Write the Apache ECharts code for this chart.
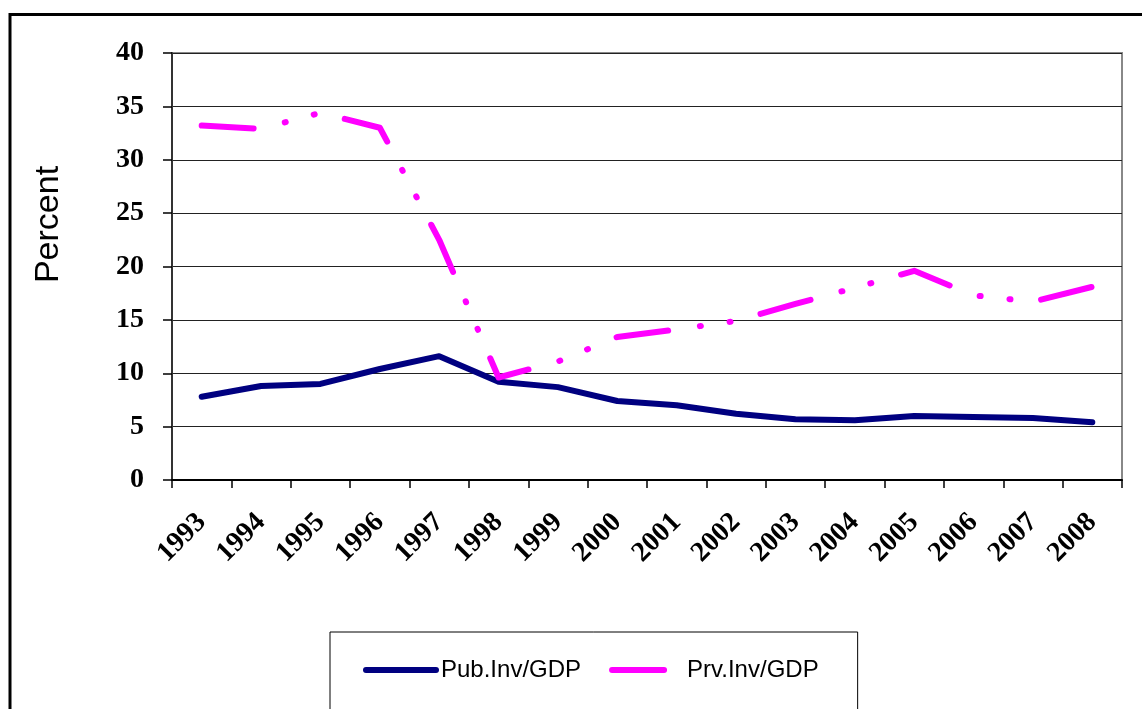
<!DOCTYPE html>
<html>
<head>
<meta charset="utf-8">
<script src="https://cdn.jsdelivr.net/npm/echarts@6/dist/echarts.min.js"></script>
<style>
  html, body { margin: 0; padding: 0; background: #fff; }
  #chart { width: 1142px; height: 709px; }
</style>
</head>
<body>
<div id="chart"></div>
<script>
// 年份与两条序列
const years = ['1993', '1994', '1995', '1996', '1997', '1998', '1999', '2000',
  '2001', '2002', '2003', '2004', '2005', '2006', '2007', '2008']
const pubInv = [7.8, 8.8, 9.0, 10.4, 11.6, 9.2, 8.7, 7.4, 7.0, 6.2, 5.7, 5.6, 6.0, 5.9, 5.8, 5.4]
const prvInv = [33.2, 32.9, 34.4, 33.0, 22.5, 9.6, 11.1, 13.4, 14.1, 14.9, 16.5, 18.0, 19.6, 17.3, 16.7, 18.1]
const seriesNames = ['Pub.Inv/GDP', 'Prv.Inv/GDP']

const serif = '"Liberation Serif", "Times New Roman", serif'
const sans = '"Liberation Sans", Arial, sans-serif'

const chartDom = echarts.init(document.getElementById('chart'))

const option = {
  animation: false,
  backgroundColor: '#fff',
  graphic: [
    {
      type: 'rect',
      shape: { x: 10, y: 14.5, width: 1300, height: 900 },
      style: { fill: 'none', stroke: '#000', lineWidth: 3 },
      silent: true
    }
  ],
  grid: {
    left: 172,
    top: 53,
    right: 20,
    bottom: 229,
    show: true,
    borderColor: '#888',
    borderWidth: 2
  },
  legend: {
    data: seriesNames,
    left: 330,
    top: 632,
    orient: 'horizontal',
    padding: [26, 39, 80, 33],
    borderColor: '#000',
    borderWidth: 1,
    itemWidth: 70,
    itemHeight: 14,
    itemGap: 28,
    // 去掉图例里的圆点，只保留线
    itemStyle: { color: 'rgba(0,0,0,0)', borderWidth: 0 },
    lineStyle: { width: 6 },
    textStyle: {
      fontFamily: sans,
      fontSize: 24,
      color: '#000'
    }
  },
  xAxis: {
    type: 'category',
    data: years,
    boundaryGap: true,
    axisLine: { lineStyle: { color: '#000', width: 2 } },
    axisTick: { show: true, inside: false, length: 8, lineStyle: { color: '#000', width: 1.5 } },
    axisLabel: {
      rotate: 45,
      margin: 38,
      interval: 0,
      fontFamily: serif,
      fontWeight: 'bold',
      fontSize: 28,
      color: '#000'
    },
    splitLine: { show: false }
  },
  yAxis: {
    type: 'value',
    min: 0,
    max: 40,
    interval: 5,
    name: 'Percent',
    nameLocation: 'middle',
    nameRotate: 90,
    nameGap: 106,
    nameTextStyle: {
      fontFamily: sans,
      fontSize: 34,
      color: '#000',
      padding: [0, 0, 0, 84]
    },
    axisLine: { show: true, lineStyle: { color: '#333', width: 2 } },
    axisTick: { show: true, inside: false, length: 9, lineStyle: { color: '#000', width: 1.5 } },
    axisLabel: {
      margin: 28,
      fontFamily: serif,
      fontWeight: 'bold',
      fontSize: 28,
      color: '#000'
    },
    splitLine: { show: true, lineStyle: { color: '#222', width: 1.2 } }
  },
  series: [
    {
      name: seriesNames[0],
      type: 'line',
      data: pubInv,
      symbol: 'none',
      smooth: false,
      itemStyle: { color: '#000080' },
      lineStyle: { color: '#000080', width: 6, cap: 'round', join: 'round' }
    },
    {
      name: seriesNames[1],
      type: 'line',
      data: prvInv,
      symbol: 'none',
      smooth: false,
      itemStyle: { color: '#ff00ff' },
      lineStyle: {
        color: '#ff00ff',
        width: 6,
        type: [52, 32, 1, 29, 1, 31],
        cap: 'round',
        join: 'round'
      }
    }
  ]
}

chartDom.setOption(option)
</script>
</body>
</html>
